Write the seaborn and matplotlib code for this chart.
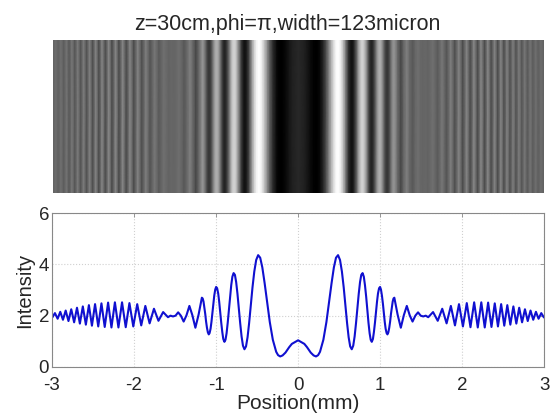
import numpy as np
import pandas as pd
import seaborn as sns
import matplotlib
matplotlib.use("Agg")
import matplotlib.pyplot as plt

# Intensity profile, right half (x >= 0).
# The pattern is symmetric about 0, so the left half is the mirror of this.
pos_half = [0.0, 0.076, 0.109, 0.154, 0.189, 0.218, 0.244, 0.267, 0.308, 0.345,
            0.377, 0.408, 0.436,
            0.462, 0.487, 0.511, 0.534, 0.556, 0.577, 0.597, 0.616, 0.635, 0.654,
            0.672, 0.689, 0.706, 0.723, 0.739, 0.755, 0.770, 0.786, 0.801, 0.815,
            0.830, 0.844, 0.858, 0.872, 0.885, 0.898, 0.912, 0.924, 0.937, 0.950,
            0.962, 0.974, 0.987, 0.999, 1.010, 1.022, 1.034, 1.045, 1.056, 1.067,
            1.079, 1.089, 1.100, 1.111, 1.122, 1.132, 1.143, 1.153, 1.163, 1.173,
            1.213, 1.252, 1.289, 1.325, 1.361, 1.395, 1.429, 1.462, 1.494, 1.525,
            1.556, 1.586, 1.645, 1.702, 1.757, 1.810, 1.862, 1.912, 1.961, 2.009,
            2.056, 2.101, 2.146, 2.190, 2.233, 2.275, 2.316, 2.357, 2.397, 2.436,
            2.475, 2.513, 2.550, 2.587, 2.624, 2.660, 2.695, 2.730, 2.765, 2.799,
            2.833, 2.866, 2.899, 2.931, 2.964, 2.996, 3.0]
intensity_half = [1.04, 0.90, 0.77, 0.56, 0.45, 0.41, 0.46, 0.59, 1.06, 1.75,
                  2.52, 3.27, 3.88,
                  4.26, 4.36, 4.17, 3.72, 3.10, 2.39, 1.71, 1.16, 0.80, 0.69,
                  0.83, 1.19, 1.71, 2.29, 2.85, 3.31, 3.59, 3.66, 3.52, 3.19,
                  2.73, 2.21, 1.72, 1.31, 1.06, 0.98, 1.09, 1.36, 1.73, 2.15,
                  2.55, 2.87, 3.07, 3.12, 3.02, 2.78, 2.46, 2.10, 1.76, 1.49,
                  1.32, 1.27, 1.35, 1.53, 1.78, 2.07, 2.33, 2.55, 2.67, 2.70,
                  2.04, 1.53, 2.02, 2.38, 2.01, 1.77, 2.00, 2.13, 2.00, 1.97,
                  2.00, 1.94, 2.14, 1.80, 2.27, 1.70, 2.38, 1.62, 2.45, 1.58,
                  2.49, 1.55, 2.52, 1.54, 2.52, 1.54, 2.51, 1.56, 2.48, 1.58,
                  2.45, 1.61, 2.41, 1.65, 2.36, 1.69, 2.31, 1.74, 2.25, 1.79,
                  2.20, 1.84, 2.15, 1.88, 2.10, 1.93, 1.94]

x_ticks = [-3, -2, -1, 0, 1, 2, 3]
y_ticks = [0, 2, 4, 6]
title_txt = "z=30cm,phi=π,width=123micron"

sns.set_style("white")
plt.rcParams["font.family"] = ["Liberation Sans", "DejaVu Sans"]
plt.rcParams["axes.unicode_minus"] = False

# full profile: mirror the right half onto the left
pos = np.concatenate([-np.array(pos_half[:0:-1]), pos_half])
intensity = np.concatenate([intensity_half[:0:-1], intensity_half])
df = pd.DataFrame({"pos": pos, "intensity": intensity})

fig = plt.figure(figsize=(5.5, 4.17), dpi=100)
ax_img = fig.add_axes([0.096, 0.537, 0.893, 0.367])
ax = fig.add_axes([0.0945, 0.12, 0.895, 0.369])

# top: the fringe pattern as a grey image (same profile repeated vertically)
ax_img.pcolormesh(np.vstack([pos, pos]),
                  np.vstack([np.zeros_like(pos), np.ones_like(pos)]),
                  np.vstack([intensity, intensity]),
                  shading="gouraud", cmap="gray")
ax_img.set_xlim(-3, 3)
ax_img.set_ylim(0, 1)
ax_img.axis("off")
fig.text(0.523, 1 - 30 / 417, title_txt, ha="center", va="baseline", fontsize=15.5)

# bottom: intensity line
sns.lineplot(data=df, x="pos", y="intensity", ax=ax, color="#1010d0",
             linewidth=1.5, estimator=None, sort=False)
ax.set_xlim(-3, 3)
ax.set_ylim(0, 6)
ax.set_xticks(x_ticks)
ax.set_yticks(y_ticks)
ax.grid(True, color="#d0d0d0", linestyle=":", linewidth=0.8)
for s in ax.spines.values():
    s.set_color("#888888")
    s.set_linewidth(0.8)
ax.tick_params(direction="in", length=3, width=0.6, color="#888888",
               top=True, right=True, labelsize=13.5)
ax.tick_params(axis="x", pad=7)
ax.tick_params(axis="y", pad=2)
ax.set_xlabel("Position(mm)", fontsize=15, labelpad=0)
ax.set_ylabel("Intensity", fontsize=14.5, labelpad=3)

fig.savefig("out.png", dpi=100)
